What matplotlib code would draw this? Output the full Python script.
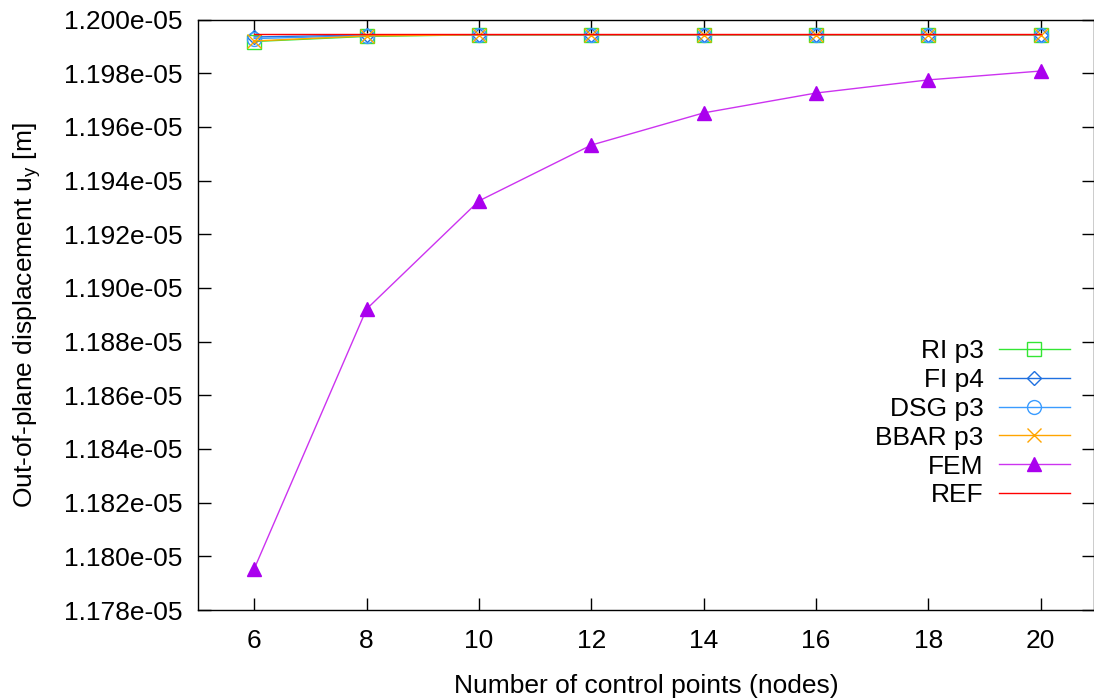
import matplotlib
matplotlib.use("Agg")
from matplotlib import pyplot as plt
from matplotlib.ticker import FormatStrFormatter, MultipleLocator

plt.rcParams['font.family'] = ['Liberation Sans', 'DejaVu Sans']

# liczba punktow kontrolnych
nodes = [6, 8, 10, 12, 14, 16, 18, 20]

ri_p3 = [1.19918e-05, 1.19937e-05, 1.19943e-05, 1.19943e-05, 1.19943e-05, 1.19943e-05, 1.19943e-05, 1.19943e-05]
fi_p4 = [1.19935e-05, 1.19942e-05, 1.19943e-05, 1.19943e-05, 1.19943e-05, 1.19943e-05, 1.19943e-05, 1.19943e-05]
dsg_p3 = [1.19929e-05, 1.19940e-05, 1.19943e-05, 1.19943e-05, 1.19943e-05, 1.19943e-05, 1.19943e-05, 1.19943e-05]
bbar_p3 = [1.19920e-05, 1.19939e-05, 1.19943e-05, 1.19943e-05, 1.19943e-05, 1.19943e-05, 1.19943e-05, 1.19943e-05]
fem = [1.17953e-05, 1.18921e-05, 1.19324e-05, 1.19532e-05, 1.19652e-05, 1.19726e-05, 1.19775e-05, 1.19808e-05]
ref = 1.19945e-05


def wykres():
    fig = plt.figure(figsize=(10.94, 7.0), dpi=100)
    ax = fig.add_axes([198 / 1094, 1 - 610 / 700, (1094 - 198) / 1094, (610 - 19.5) / 700])

    ax.plot(nodes, ri_p3, color='#33e633', lw=1, marker='s', ms=9.5, mfc='none', mew=1, label='RI p3')
    ax.plot(nodes, fi_p4, color='#1f70e0', lw=1, marker='D', ms=7, mfc='none', mew=1, label='FI p4')
    ax.plot(nodes, dsg_p3, color='#3a9cff', lw=1, marker='o', ms=10, mfc='none', mew=1, label='DSG p3')
    ax.plot(nodes, bbar_p3, color='#ffa500', lw=1, marker='x', ms=10, mew=1, label='BBAR p3')
    ax.plot(nodes, fem, color='#cc33f0', lw=1, marker='^', ms=10, mfc='#aa00ee', mec='#aa00ee', label='FEM')
    ax.plot([nodes[0], nodes[-1]], [ref, ref], color='red', lw=1, label='REF')

    ax.set_xlim(5, 20.95)
    ax.set_ylim(1.178e-05, 1.200e-05)
    ax.xaxis.set_major_locator(MultipleLocator(2))
    ax.yaxis.set_major_locator(MultipleLocator(0.002e-05))
    ax.yaxis.set_major_formatter(FormatStrFormatter('%.3e'))
    ax.tick_params(direction='in', top=True, right=True, length=9, width=1, labelsize=19)
    ax.tick_params(axis='y', pad=11)
    ax.tick_params(axis='x', pad=14)
    for s in ax.spines.values():
        s.set_linewidth(1)

    ax.set_xlabel('Number of control points (nodes)', fontsize=19, labelpad=15)
    ax.set_ylabel('Out-of-plane displacement u$_\\mathregular{y}$ [m]', fontsize=19, labelpad=15)

    ax.legend(loc='upper right', bbox_to_anchor=(1070 / 1094, 1 - 339 / 700), bbox_transform=fig.transFigure,
              frameon=False, markerfirst=False, borderpad=0, borderaxespad=0,
              fontsize=19, handlelength=2.7, labelspacing=0.185, handletextpad=0.57)

    fig.savefig('out.png', dpi=100)


if __name__ == '__main__':
    wykres()
